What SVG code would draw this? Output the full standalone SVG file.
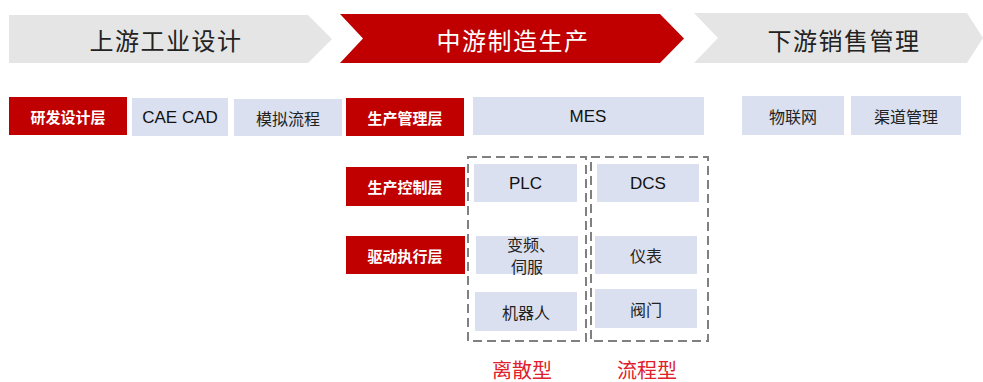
<svg xmlns="http://www.w3.org/2000/svg" width="983" height="382" viewBox="0 0 983 382">
<style>
.bg{fill:#e5e5e5}
.red{fill:#c00000}
.lt{fill:#dae0ef}
.bt{font-family:"Noto Sans CJK SC",sans-serif;font-size:24px;letter-spacing:1.5px;text-anchor:middle;dominant-baseline:central}
.rl{font-family:"Noto Sans CJK SC",sans-serif;font-size:15px;font-weight:bold;fill:#fff;text-anchor:middle;dominant-baseline:central}
.lb{font-family:"Noto Sans CJK SC",sans-serif;font-size:16px;fill:#222;text-anchor:middle;dominant-baseline:central}
.en{font-family:"Liberation Sans",Arial,sans-serif;font-size:17px;fill:#111;text-anchor:middle;dominant-baseline:central}
.dash{fill:none;stroke:#808080;stroke-width:2;stroke-dasharray:9 5}
.ty{font-family:"Noto Sans CJK SC",sans-serif;font-size:20px;fill:#e0202a;text-anchor:middle;dominant-baseline:central}
</style>
<g id="banner-upstream">
<polygon class="bg" points="9,15 308,15 332,39 308,63 9,63"/>
<text class="bt" x="166" y="39" fill="#222">上游工业设计</text>
</g>
<g id="banner-midstream">
<polygon class="red" points="340,14 660,14 684,38.5 660,63 340,63 363,38.5"/>
<text class="bt" x="513" y="39" fill="#fff">中游制造生产</text>
</g>
<g id="banner-downstream">
<polygon class="bg" points="694,13 967,13 983,38 967,63 694,63 718,38"/>
<text class="bt" x="844" y="39" fill="#222">下游销售管理</text>
</g>
<g id="layer-rd"><rect class="red" x="9" y="97" width="118" height="38"/><text class="rl" x="68" y="116">研发设计层</text></g>
<g id="cae-cad"><rect class="lt" x="132" y="98" width="96" height="38"/><text class="en" x="180" y="117">CAE CAD</text></g>
<g id="sim"><rect class="lt" x="234" y="99" width="108" height="37"/><text class="lb" x="288" y="117.5">模拟流程</text></g>
<g id="layer-mgmt"><rect class="red" x="346" y="98" width="118" height="38"/><text class="rl" x="405" y="117">生产管理层</text></g>
<g id="mes"><rect class="lt" x="473" y="97" width="231" height="38"/><text class="en" x="588" y="116">MES</text></g>
<g id="iot"><rect class="lt" x="742" y="96" width="102" height="39"/><text class="lb" x="793" y="115.5">物联网</text></g>
<g id="channel"><rect class="lt" x="851" y="96" width="110" height="39"/><text class="lb" x="906" y="115.5">渠道管理</text></g>
<g id="layer-ctrl"><rect class="red" x="346" y="167" width="119" height="39"/><text class="rl" x="405" y="186.5">生产控制层</text></g>
<g id="layer-drive"><rect class="red" x="346" y="236" width="119" height="38"/><text class="rl" x="405" y="255">驱动执行层</text></g>
<g id="discrete">
<rect class="dash" x="468" y="157" width="118" height="184"/>
<text class="ty" x="522" y="369">离散型</text>
</g>
<g id="process">
<rect class="dash" x="591" y="157" width="117" height="184"/>
<text class="ty" x="647" y="369">流程型</text>
</g>
<g id="plc"><rect class="lt" x="474" y="164" width="103" height="38"/><text class="en" x="525.5" y="183">PLC</text></g>
<g id="dcs"><rect class="lt" x="597" y="164" width="102" height="38"/><text class="en" x="648" y="183">DCS</text></g>
<g id="vfd"><rect class="lt" x="476" y="236" width="102" height="38"/><text class="lb" x="531" y="244">变频、</text><text class="lb" x="527" y="266">伺服</text></g>
<g id="meter"><rect class="lt" x="595" y="236" width="102" height="38"/><text class="lb" x="646" y="255">仪表</text></g>
<g id="robot"><rect class="lt" x="475" y="292" width="102" height="39"/><text class="lb" x="526" y="311.5">机器人</text></g>
<g id="valve"><rect class="lt" x="595" y="289" width="102" height="39"/><text class="lb" x="646" y="308.5">阀门</text></g>
<g id="connectors"></g>
</svg>
